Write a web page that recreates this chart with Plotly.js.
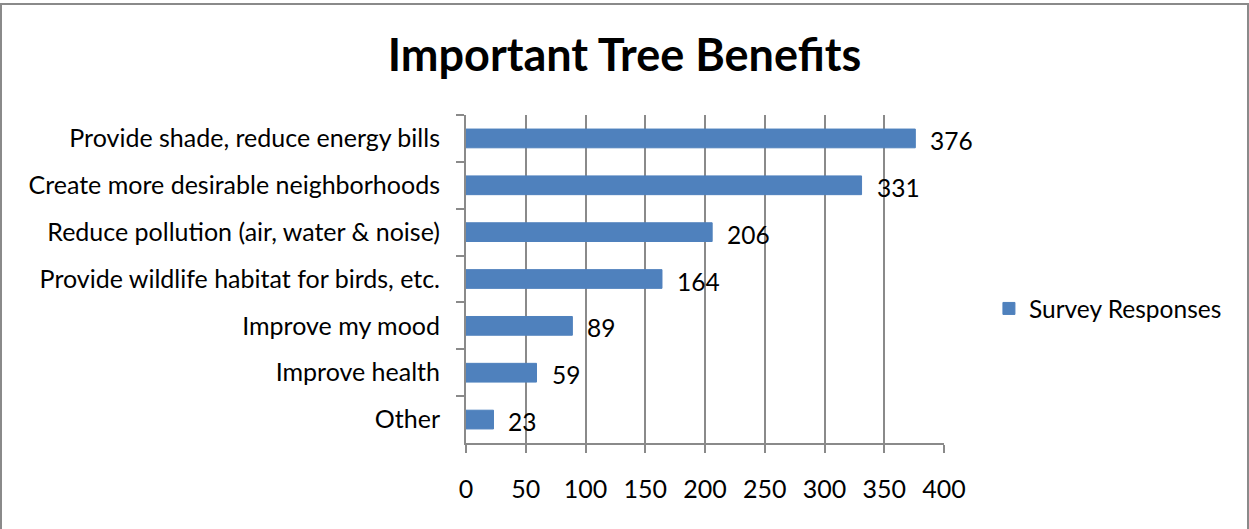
<!DOCTYPE html>
<html>
<head>
<meta charset="utf-8">
<script src="https://cdn.plot.ly/plotly-3.0.1.min.js"></script>
<style>
  html, body { margin: 0; padding: 0; background: #fff; }
  #wrap { position: relative; width: 1249px; height: 529px; overflow: hidden; }
  #chart { position: absolute; left: 0; top: 0; width: 1249px; height: 529px; }
  #frame { position: absolute; left: 0; top: 3px; width: 1245px; height: 600px;
           border: 2px solid #8a8a8a; pointer-events: none; }
</style>
</head>
<body>
<div id="wrap">
  <div id="chart"></div>
  <div id="frame"></div>
</div>
<script>
const categories = [
  "Provide shade, reduce energy bills",
  "Create more desirable neighborhoods",
  "Reduce pollution (air, water & noise)",
  "Provide wildlife habitat for birds, etc.",
  "Improve my mood",
  "Improve health",
  "Other"
];
const responses = [376, 331, 206, 164, 89, 59, 23];
const seriesName = "Survey Responses";
const xTicks = [0, 50, 100, 150, 200, 250, 300, 350, 400];

const FONT = "Lato, 'Open Sans', sans-serif";
const barColor = "#4F81BD";
const gray = "#8a8a8a";
const FS = 25;

const trace = {
  type: "bar",
  orientation: "h",
  y: categories,
  x: responses,
  name: seriesName,
  marker: { color: barColor, line: { color: barColor, width: 1 } },
  showlegend: true,
  hoverinfo: "x+y"
};

const annotations = categories.map((c, i) => ({
  x: responses[i], y: c, xref: "x", yref: "y",
  text: String(responses[i]), showarrow: false,
  xanchor: "left", yanchor: "middle", xshift: 13, yshift: -2,
  font: { family: FONT, size: 24.5, color: "#000" }
}));

const layout = {
  width: 1249, height: 529,
  margin: { l: 466, r: 305, t: 115, b: 86, pad: 0 },
  paper_bgcolor: "#fff", plot_bgcolor: "#fff",
  bargap: 0.6,
  title: {
    text: "<b>Important Tree Benefits</b>",
    x: 0.5, xref: "container", xanchor: "center",
    y: 1 - 55/529, yref: "container", yanchor: "middle",
    font: { family: FONT, size: 45, color: "#000" }
  },
  xaxis: {
    range: [0, 400], tickvals: xTicks, ticktext: xTicks.map(String),
    showgrid: true, gridcolor: gray, gridwidth: 2,
    showline: true, linecolor: gray, linewidth: 2,
    ticks: "outside", ticklen: 8, tickwidth: 2, tickcolor: gray,
    zeroline: false, fixedrange: true,
    ticklabelstandoff: 15,
    tickfont: { family: FONT, size: FS, color: "#000" }
  },
  yaxis: {
    type: "category", autorange: "reversed",
    showgrid: false, showline: true, linecolor: gray, linewidth: 2,
    ticks: "outside", ticklen: 8, tickwidth: 2, tickcolor: gray,
    tickson: "boundaries", zeroline: false, fixedrange: true,
    ticklabelstandoff: 19,
    tickfont: { family: FONT, size: FS, color: "#000" }
  },
  legend: {
    x: 1.094, xanchor: "left", y: 0.41, yanchor: "middle",
    font: { family: FONT, size: 24.5, color: "#000" },
    itemwidth: 30, bgcolor: "rgba(0,0,0,0)"
  },
  annotations: annotations
};

Plotly.newPlot("chart", [trace], layout, { displayModeBar: false, staticPlot: true });
</script>
</body>
</html>
